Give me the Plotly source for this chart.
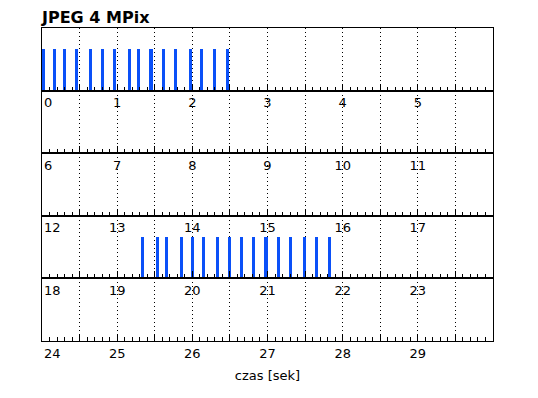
import plotly.graph_objects as go
from plotly.subplots import make_subplots

# ---------------- data ----------------
STRIP_STARTS = [0, 6, 12, 18, 24]          # seconds at the left of each strip
STRIP_LENGTH = 6                           # seconds per strip
TICK_LABELS = [
    ["0", "1", "2", "3", "4", "5"],
    ["6", "7", "8", "9", "10", "11"],
    ["12", "13", "14", "15", "16", "17"],
    ["18", "19", "20", "21", "22", "23"],
    ["24", "25", "26", "27", "28", "29"],
]
EVENT_TIMES = [
    0.02, 0.16, 0.30, 0.46, 0.65, 0.80, 0.97, 1.16,
    1.28, 1.45, 1.62, 1.77, 1.97, 2.12, 2.29, 2.47,
    19.34, 19.53, 19.66, 19.85, 20.00, 20.15, 20.33, 20.50,
    20.65, 20.82, 20.98, 21.15, 21.31, 21.49, 21.65, 21.82,
]
EVENT_VALUES = [
    1, 1, 1, 1, 1, 1, 1, 1, 1, 1, 1, 1, 1, 1, 1, 1,
    1, 1, 1, 1, 1, 1, 1, 1, 1, 1, 1, 1, 1, 1, 1, 1,
]
TITLE = "JPEG 4 MPix"
X_TITLE = "czas [sek]"

# ---------------- style ----------------
BAR_COLOR = "#0A50F8"
FONT = "DejaVu Sans"
NBSP = "\u00a0"

n = len(STRIP_STARTS)
fig = make_subplots(rows=n, cols=1, vertical_spacing=0)

for i, start in enumerate(STRIP_STARTS):
    end = start + STRIP_LENGTH
    xs = [t for t in EVENT_TIMES if start <= t < end]
    ys = [v for t, v in zip(EVENT_TIMES, EVENT_VALUES) if start <= t < end]
    fig.add_trace(
        go.Bar(x=xs, y=ys, width=0.04, marker=dict(color=BAR_COLOR, line=dict(width=0)),
               showlegend=False, hoverinfo="skip"),
        row=i + 1, col=1,
    )
    tickvals, ticktext = [], []
    for j, lab in enumerate(TICK_LABELS[i]):
        tickvals += [start + j, start + j + 0.5]
        if j == 0:
            pad = 3 if len(lab) == 1 else 5
            lab = NBSP * pad + lab
        ticktext += [lab, ""]
    fig.update_xaxes(
        range=[start, end], tickmode="array", tickvals=tickvals, ticktext=ticktext,
        ticks="inside", ticklen=7, tickcolor="black", tickwidth=1,
        minor=dict(ticks="inside", ticklen=4, dtick=0.1, tick0=0, tickcolor="black",
                   tickwidth=1, showgrid=False),
        showgrid=True, gridcolor="black", gridwidth=1, griddash="1px,3px",
        showline=True, linecolor="black", linewidth=1, mirror=True,
        zeroline=False,
        tickfont=dict(family=FONT, size=13, color="black"),
        row=i + 1, col=1,
    )
    fig.update_yaxes(
        range=[0, 1.52], showticklabels=False, ticks="", showgrid=False, zeroline=False,
        showline=True, linecolor="black", linewidth=1, mirror=True,
        row=i + 1, col=1,
    )

fig.update_xaxes(title=dict(text=X_TITLE, font=dict(family=FONT, size=13, color="black"), standoff=11),
                 row=n, col=1)

fig.update_layout(
    width=538, height=398,
    margin=dict(l=42, r=45, t=28, b=57),
    paper_bgcolor="white", plot_bgcolor="white",
    bargap=0,
    title=dict(text="<b>" + TITLE + "</b>", font=dict(family=FONT, size=16, color="black"),
               x=0, xref="paper", xanchor="left", y=1 - 17 / 398, yref="container", yanchor="middle"),
    font=dict(family=FONT, color="black"),
)

fig.write_html("out.html", config={"displayModeBar": False},
               post_script="document.body.style.margin='0';document.body.style.overflow='hidden';")
